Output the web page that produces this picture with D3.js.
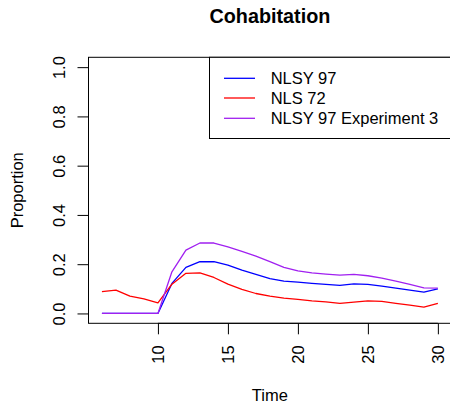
<!DOCTYPE html>
<html>
<head>
<meta charset="utf-8">
<script src="https://cdn.jsdelivr.net/npm/d3@7"></script>
<style>
  html, body { margin: 0; padding: 0; background: #fff; }
  svg { display: block; }
  text { font-family: "Liberation Sans", Arial, sans-serif; fill: #000; }
</style>
</head>
<body>
<svg id="chart" width="450" height="406"></svg>
<script>
// ---- data ----
const time = [6,7,8,9,10,11,12,13,14,15,16,17,18,19,20,21,22,23,24,25,26,27,28,29,30];
const nlsy97 = [0,0,0,0,0,0.122,0.187,0.21,0.21,0.196,0.176,0.159,0.141,0.131,0.127,0.122,0.118,0.114,0.12,0.118,0.111,0.103,0.095,0.087,0.1];
const nls72 = [0.089,0.095,0.070,0.059,0.043,0.119,0.163,0.165,0.146,0.119,0.098,0.081,0.07,0.062,0.057,0.051,0.047,0.041,0.046,0.051,0.049,0.041,0.034,0.026,0.041];
const exp3 = [0,0,0,0,0,0.169,0.257,0.286,0.286,0.27,0.252,0.233,0.21,0.187,0.173,0.165,0.16,0.156,0.159,0.153,0.143,0.131,0.118,0.104,0.103];
const seriesNames = ["NLSY 97", "NLS 72", "NLSY 97 Experiment 3"];
const seriesColors = ["#0000FF", "#FF0000", "#A020F0"];
const xTicks = [10, 15, 20, 25, 30];
const yTicks = [0, 0.2, 0.4, 0.6, 0.8, 1.0];
const chartTitle = "Cohabitation";
const xLabel = "Time";
const yLabel = "Proportion";

// ---- layout ----
const svg = d3.select("#chart");
const pL = 88.5, pR = 451.3, pT = 57.3, pB = 323.3;
const fs = 16.5;

const x = d3.scaleLinear().domain([5.04, 30.96]).range([pL, pR]);
const y = d3.scaleLinear().domain([-0.04, 1.04]).range([pB, pT]);

// series lines
const series = [nlsy97, nls72, exp3];
const line = d3.line().x((d, i) => x(time[i])).y(d => y(d));
series.forEach((s, k) => {
  svg.append("path")
    .datum(s)
    .attr("d", line)
    .attr("fill", "none")
    .attr("stroke", seriesColors[k])
    .attr("stroke-width", 1.3)
    .attr("stroke-linejoin", "round");
});

// axes
const xAxis = d3.axisBottom(x).tickValues(xTicks).tickSize(11).tickSizeOuter(0).tickFormat(d3.format("d"));
const gx = svg.append("g").attr("transform", `translate(0,${pB})`).call(xAxis);
gx.select(".domain").remove();
gx.selectAll(".tick line").attr("stroke", "#000").attr("stroke-width", 1);
gx.selectAll(".tick text")
  .attr("font-size", fs)
  .attr("font-family", "Liberation Sans, Arial, sans-serif")
  .attr("fill", "#000")
  .attr("text-anchor", "end")
  .attr("dy", null)
  .attr("y", null)
  .attr("transform", "translate(6,22) rotate(-90)");

const yAxis = d3.axisLeft(y).tickValues(yTicks).tickSize(11).tickSizeOuter(0).tickFormat(d3.format(".1f"));
const gy = svg.append("g").attr("transform", `translate(${pL},0)`).call(yAxis);
gy.select(".domain").remove();
gy.selectAll(".tick line").attr("stroke", "#000").attr("stroke-width", 1);
gy.selectAll(".tick text")
  .attr("font-size", fs)
  .attr("font-family", "Liberation Sans, Arial, sans-serif")
  .attr("fill", "#000")
  .attr("text-anchor", "middle")
  .attr("dy", null)
  .attr("x", null)
  .attr("transform", "translate(-24,0) rotate(-90)");

// axis lines (R draws from first to last tick)
svg.append("line").attr("x1", x(xTicks[0])).attr("x2", x(xTicks[xTicks.length-1]))
  .attr("y1", pB).attr("y2", pB).attr("stroke", "#000");
svg.append("line").attr("y1", y(yTicks[0])).attr("y2", y(yTicks[yTicks.length-1]))
  .attr("x1", pL).attr("x2", pL).attr("stroke", "#000");

// box
svg.append("rect")
  .attr("x", pL).attr("y", pT)
  .attr("width", pR - pL).attr("height", pB - pT)
  .attr("fill", "none").attr("stroke", "#000").attr("stroke-width", 1);

// titles
svg.append("text").attr("x", (pL + pR) / 2).attr("y", 23.3)
  .attr("text-anchor", "middle").attr("font-weight", "bold").attr("font-size", fs * 1.2)
  .text(chartTitle);
svg.append("text").attr("x", (pL + pR) / 2).attr("y", 400.7)
  .attr("text-anchor", "middle").attr("font-size", fs).text(xLabel);
svg.append("text").attr("transform", `translate(23,${(pT + pB) / 2}) rotate(-90)`)
  .attr("text-anchor", "middle").attr("font-size", fs).text(yLabel);

// legend
const lg = svg.append("g");
lg.append("rect").attr("x", 209.5).attr("y", pT).attr("width", 260).attr("height", 138.5 - pT)
  .attr("fill", "#fff").attr("stroke", "#000").attr("stroke-width", 1);
const rowY = [78.3, 98, 118.3];
seriesNames.forEach((n, i) => {
  lg.append("line").attr("x1", 224).attr("x2", 255).attr("y1", rowY[i]).attr("y2", rowY[i])
    .attr("stroke", seriesColors[i]).attr("stroke-width", 1.3);
  lg.append("text").attr("x", 270.7).attr("y", rowY[i] + 6).attr("font-size", fs).text(n);
});
</script>
</body>
</html>
